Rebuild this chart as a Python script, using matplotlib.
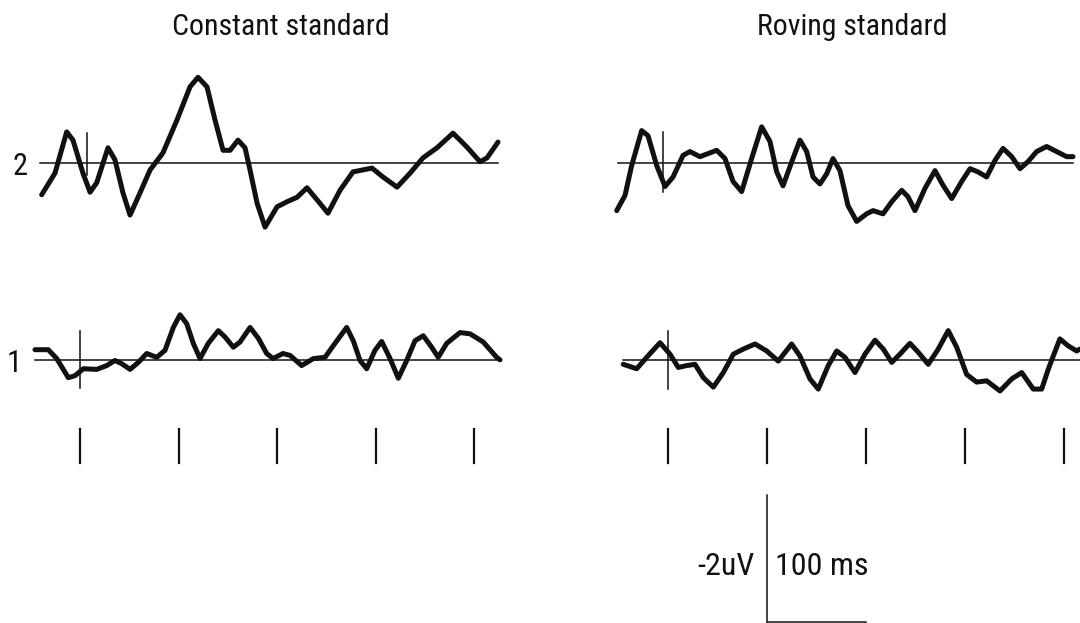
import matplotlib
matplotlib.use("Agg")
import matplotlib.pyplot as plt
import numpy as np

# ---------------- data (time in ms, amplitude in uV, negative up) ----------------
titles = ["Constant standard", "Roving standard"]
channel_labels = ["2", "1"]
tick_times = [0, 100, 200, 300, 400]

lt_t = [-38.9, -25.4, -13.5, -7.1, 3.0, 10.2, 17.0, 28.4, 35.5, 43.6, 50.8, 60.9, 71.1,
        84.2, 98.5, 111.7, 119.8, 128.9, 137.0, 145.2, 152.3, 160.4, 167.5, 172.6, 179.7,
        187.8, 200.0, 210.1, 220.3, 230.4, 240.6, 251.7, 263.9, 277.1, 296.4, 307.5, 321.8,
        335.0, 348.1, 362.4, 378.6, 392.8, 406.0, 413.1, 424.3]
lt_v = [0.50, 0.16, -0.49, -0.36, 0.16, 0.46, 0.31, -0.24, -0.05, 0.47, 0.82, 0.47, 0.11,
        -0.16, -0.68, -1.20, -1.35, -1.20, -0.68, -0.20, -0.20, -0.36, -0.24, 0.11, 0.63,
        1.01, 0.69, 0.61, 0.54, 0.39, 0.58, 0.79, 0.43, 0.14, 0.08, 0.22, 0.38,
        0.16, -0.08, -0.24, -0.47, -0.25, -0.02, -0.08, -0.33]

lb_t = [-45.7, -32.2, -23.6, -11.9, -5.1, 3.3, 17.0, 27.1, 35.5, 42.3, 50.8, 59.2, 67.7,
        77.9, 86.3, 94.7, 101.5, 108.3, 115.0, 121.8, 130.2, 140.4, 147.2, 155.6, 162.4,
        172.6, 181.0, 189.5, 195.9, 206.0, 213.2, 225.0, 236.8, 248.7, 258.8, 270.7, 277.4,
        284.2, 291.0, 299.4, 306.2, 314.7, 323.1, 331.6, 340.0, 348.4, 356.9, 363.6, 372.2,
        385.7, 395.9, 409.4, 422.9, 426.3]
lb_v = [-0.16, -0.16, -0.02, 0.28, 0.25, 0.14, 0.15, 0.09, 0.01, 0.06, 0.15, 0.04, -0.10,
        -0.04, -0.15, -0.51, -0.71, -0.57, -0.26, -0.02, -0.26, -0.46, -0.36, -0.20, -0.28,
        -0.51, -0.34, -0.10, -0.02, -0.10, -0.07, 0.09, -0.02, -0.04, -0.26, -0.51, -0.30,
        0.01, 0.14, -0.15, -0.29, -0.02, 0.29, 0.01, -0.30, -0.38, -0.20, -0.04, -0.26,
        -0.43, -0.41, -0.28, -0.04, 0.00]

rt_t = [-51.8, -43.4, -36.7, -26.6, -20.2, -11.4, -3.0, 5.1, 15.2, 22.2, 32.3, 49.2, 57.6,
        65.7, 74.4, 84.5, 94.6, 103.0, 109.8, 116.2, 125.0, 133.3, 140.1, 146.5, 153.5,
        160.3, 166.7, 173.7, 181.8, 190.6, 200.7, 207.1, 217.2, 226.0, 236.1, 242.4, 249.5,
        259.6, 269.7, 277.8, 286.6, 296.7, 305.1, 313.1, 321.9, 330.3, 338.4, 347.2, 355.6,
        363.6, 372.4, 382.5, 392.6, 402.7, 409.1]
rt_v = [0.75, 0.51, 0.04, -0.51, -0.43, 0.04, 0.37, 0.22, -0.12, -0.18, -0.10, -0.20, -0.07,
        0.29, 0.45, -0.07, -0.57, -0.34, 0.14, 0.36, -0.02, -0.36, -0.18, 0.22, 0.33,
        0.17, -0.07, 0.12, 0.67, 0.92, 0.80, 0.75, 0.80, 0.61, 0.43, 0.53, 0.75,
        0.40, 0.12, 0.35, 0.56, 0.29, 0.09, 0.14, 0.22, -0.04, -0.23, -0.10, 0.09,
        -0.02, -0.18, -0.26, -0.18, -0.10, -0.10]

rb_t = [-45.2, -31.6, -21.5, -8.1, 2.0, 10.4, 18.9, 27.3, 35.7, 45.8, 55.9, 66.0, 76.1,
        87.9, 99.7, 111.4, 124.9, 133.3, 143.4, 151.8, 161.9, 170.4, 178.8, 188.9, 199.0,
        209.1, 217.5, 226.0, 234.3, 244.4, 252.8, 262.9, 273.0, 283.1, 291.6, 301.7, 311.8,
        321.9, 335.4, 347.2, 357.3, 369.0, 377.5, 384.1, 389.2, 395.9, 404.3, 412.8, 416.2]
rb_v = [0.07, 0.14, -0.04, -0.27, -0.09, 0.12, 0.09, 0.07, 0.28, 0.43, 0.20, -0.09, -0.17,
        -0.25, -0.14, 0.02, -0.25, -0.06, 0.30, 0.46, 0.09, -0.14, -0.04, 0.20, -0.09,
        -0.31, -0.17, 0.04, -0.09, -0.26, -0.12, 0.07, -0.17, -0.46, -0.20, 0.23, 0.35,
        0.33, 0.49, 0.30, 0.20, 0.46, 0.46, 0.15, -0.06, -0.33, -0.22, -0.14, -0.17]

# stimulus-onset markers: time, (top, bottom) in uV
marker_t = [[6.8, 0.0], [-4.7, 0.0]]
marker_v = [[(-0.47, 0.19), (-0.46, 0.45)], [(-0.49, 0.45), (-0.46, 0.46)]]
# baseline extents (ms)
base_ext = [[(-40.6, 424.3), (-45.7, 426.3)], [(-50.5, 409.1), (-45.5, 416.2)]]

traces = [[(lt_t, lt_v), (lb_t, lb_v)], [(rt_t, rt_v), (rb_t, rb_v)]]

# ---------------- layout ----------------
row_offset = [0.0, 3.1]          # uV offset of each row
xlims = [(-81.2, 466.9), (-129.3, 416.2)]
ylim = (7.244, -2.567)           # inverted: negative up
tick_v = (4.19, 4.72)

plt.rcParams['font.family'] = ['Roboto Condensed', 'Open Sans Condensed', 'Noto Sans', 'DejaVu Sans']
plt.rcParams['font.stretch'] = 'condensed'

fig = plt.figure(figsize=(10.8, 6.23), dpi=100)
fig.patch.set_facecolor('white')

lw_trace = 3.6
col = '#111111'
tkw = dict(color=col, fontstretch='condensed')

for c in range(2):
    ax = fig.add_axes([0.5 * c, 0, 0.5, 1])
    ax.set_xlim(*xlims[c])
    ax.set_ylim(*ylim)
    ax.axis('off')
    for r in range(2):
        t, v = traces[c][r]
        off = row_offset[r]
        ax.plot(t, np.array(v) + off, color=col, lw=lw_trace, solid_joinstyle='round',
                solid_capstyle='round', clip_on=False)
        x0, x1 = base_ext[c][r]
        ax.plot([x0, x1], [off, off], color=col, lw=1.1, clip_on=False)
        mt = marker_t[c][r]
        mv0, mv1 = marker_v[c][r]
        ax.plot([mt, mt], [mv0 + off, mv1 + off], color=col, lw=1.1)
    for tt in tick_times:
        ax.plot([tt, tt], list(tick_v), color=col, lw=1.6)
    ax.text([204, 186][c], -2.02, titles[c], ha='center', va='baseline', fontsize=21.5, **tkw)
    if c == 0:
        ax.text(-61, 0.19, channel_labels[0], ha='center', va='baseline', fontsize=22, **tkw)
        ax.text(-67, 3.29, channel_labels[1], ha='center', va='baseline', fontsize=22, **tkw)
    else:
        # calibration bar: 2 uV vertical, 100 ms horizontal
        ax.plot([100, 100], [7.23, 5.23], color=col, lw=1.1, clip_on=False)
        ax.plot([100, 200], [7.23, 7.23], color=col, lw=1.1, clip_on=False)
        ax.text(88, 6.49, "-2uV", ha='right', va='baseline', fontsize=23, **tkw)
        ax.text(108, 6.49, "100 ms", ha='left', va='baseline', fontsize=23, **tkw)

fig.savefig("out.png", dpi=100, facecolor='white')
